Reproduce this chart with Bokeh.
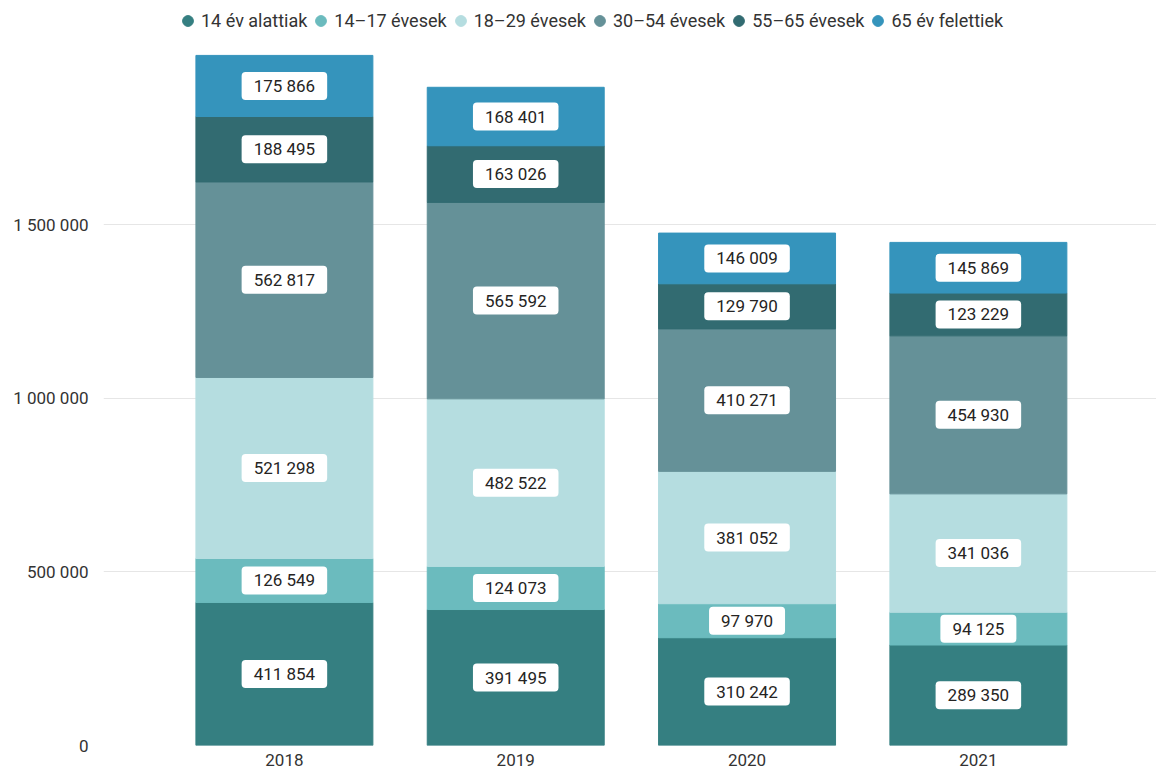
from bokeh.plotting import figure
from bokeh.models import Range1d, FixedTicker, ColumnDataSource, Legend, LegendItem
from bokeh.embed import file_html
from bokeh.resources import INLINE
from bokeh.core.properties import value

years = ["2018", "2019", "2020", "2021"]
groups = ["14 év alattiak", "14–17 évesek", "18–29 évesek",
          "30–54 évesek", "55–65 évesek", "65 év felettiek"]
colors = ["#357f81", "#6bbbbe", "#b5dde0", "#659198", "#326b71", "#3594bc"]

under14 = [411854, 391495, 310242, 289350]
age14_17 = [126549, 124073, 97970, 94125]
age18_29 = [521298, 482522, 381052, 341036]
age30_54 = [562817, 565592, 410271, 454930]
age55_65 = [188495, 163026, 129790, 123229]
over65 = [175866, 168401, 146009, 145869]

y_ticks = [0, 500000, 1000000, 1500000]
y_tick_labels = ["0", "500 000", "1 000 000", "1 500 000"]

series = [under14, age14_17, age18_29, age30_54, age55_65, over65]
keys = ["s0", "s1", "s2", "s3", "s4", "s5"]

FONT = "Roboto"

xs = list(range(len(years)))
data = {"x": xs}
for k, s in zip(keys, series):
    data[k] = s
src = ColumnDataSource(data)

# label positions (segment midpoints) from data
lx, ly, lt = [], [], []
for i in xs:
    base = 0
    for s in series:
        v = s[i]
        lx.append(i)
        ly.append(base + v / 2)
        lt.append(f"{v:,}".replace(",", " "))
        base += v
lsrc = ColumnDataSource(dict(x=lx, y=ly, t=lt))

W, H = 1156, 772
p = figure(width=W, height=H, output_backend="svg", toolbar_location=None,
           x_range=Range1d(-0.782, 3.770), y_range=Range1d(0, 2145000),
           min_border_left=103, min_border_right=0, min_border_top=0,
           min_border_bottom=27)
p.outline_line_color = None
p.background_fill_color = "white"

p.vbar_stack(keys, x="x", width=0.765, source=src, fill_color=colors,
             line_color=colors, line_width=1)

p.text(x="x", y="y", text="t", source=lsrc, text_align="center",
       text_baseline="middle", text_font=value(FONT), text_font_size="17px",
       text_color="#252423", background_fill_color="white",
       border_radius=4, padding=dict(left=12, right=12, top=4, bottom=4))

# axes
p.xaxis.ticker = FixedTicker(ticks=xs)
p.xaxis.major_label_overrides = {i: y for i, y in zip(xs, years)}
p.xaxis.axis_line_color = None
p.xaxis.major_tick_line_color = None
p.xaxis.minor_tick_line_color = None
p.xaxis.major_tick_out = 0
p.xaxis.major_tick_in = 0
p.xaxis.minor_tick_out = 0
p.xaxis.major_label_standoff = 8
p.xaxis.major_label_text_font = FONT
p.xaxis.major_label_text_font_size = "17px"
p.xaxis.major_label_text_color = "#333333"

p.yaxis.ticker = FixedTicker(ticks=y_ticks)
p.yaxis.major_label_overrides = {t: l for t, l in zip(y_ticks, y_tick_labels)}
p.yaxis.axis_line_color = None
p.yaxis.major_tick_line_color = None
p.yaxis.minor_tick_line_color = None
p.yaxis.major_tick_out = 0
p.yaxis.major_tick_in = 0
p.yaxis.minor_tick_out = 0
p.yaxis.major_label_standoff = 15
p.yaxis.major_label_text_font = FONT
p.yaxis.major_label_text_font_size = "17px"
p.yaxis.major_label_text_color = "#333333"

p.xgrid.grid_line_color = None
p.ygrid.ticker = FixedTicker(ticks=y_ticks)
p.ygrid.grid_line_color = "#e6e6e6"
p.ygrid.grid_line_width = 1

# legend with circle glyphs
nan = float("nan")
items = []
for g, c in zip(groups, colors):
    r = p.scatter(x=[nan], y=[nan], marker="circle", fill_color=c, line_color=c)
    items.append(LegendItem(label=g, renderers=[r]))
legend = Legend(items=items, orientation="horizontal", location=(71, 711),
                glyph_width=27, glyph_height=27, label_standoff=-9,
                spacing=-3, padding=0, margin=0, label_height=27,
                border_line_color=None, background_fill_alpha=0,
                label_text_font=FONT, label_text_font_size="18px",
                label_text_color="#333333")
p.add_layout(legend, "center")

open("out.html", "w").write(file_html(p, INLINE))
